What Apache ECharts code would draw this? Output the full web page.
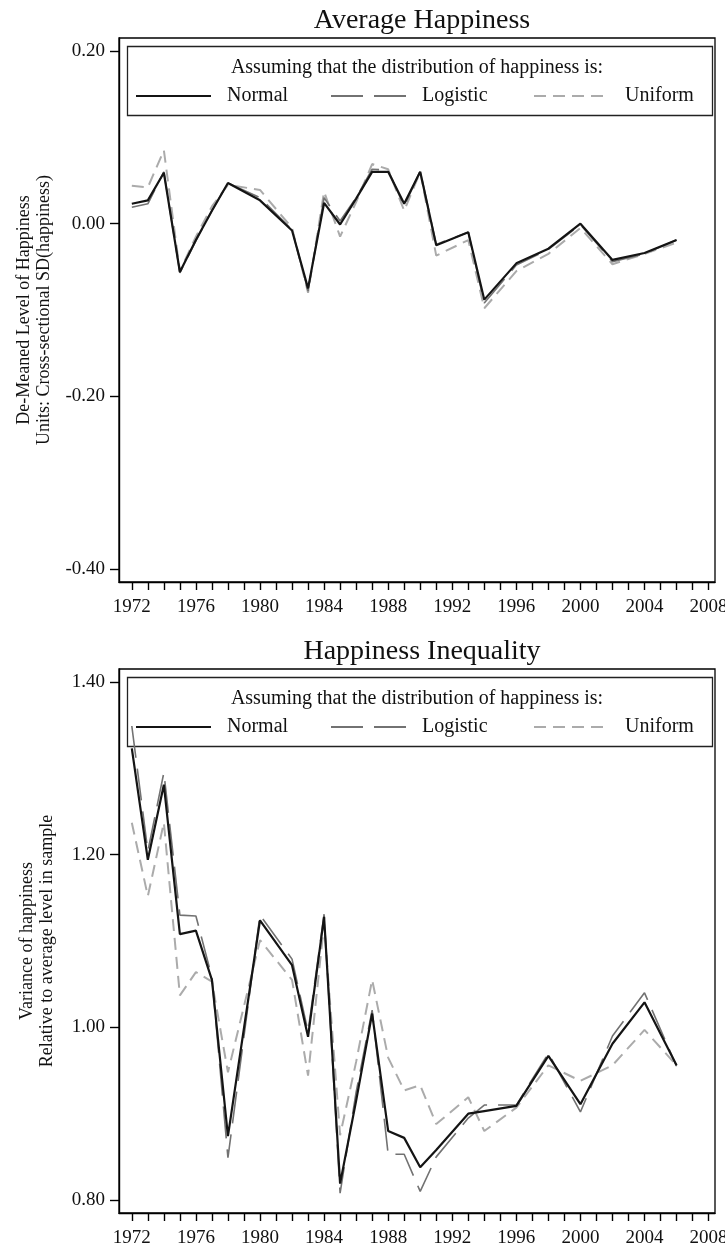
<!DOCTYPE html>
<html>
<head>
<meta charset="utf-8">
<script src="https://cdn.jsdelivr.net/npm/echarts@6/dist/echarts.min.js"></script>
<style>
html,body{margin:0;padding:0;background:#fff;}
#chart{width:725px;height:1251px;}
</style>
</head>
<body>
<div id="chart"></div>
<script>
// ---- data ----
const years = [1972,1973,1974,1975,1976,1977,1978,1980,1982,1983,1984,1985,1986,1987,1988,1989,1990,1991,1993,1994,1996,1998,2000,2002,2004,2006];

const avgNormal   = [0.023,0.027,0.059,-0.056,-0.019,0.015,0.047,0.027,-0.008,-0.075,0.024,-0.001,0.029,0.060,0.060,0.023,0.060,-0.025,-0.010,-0.088,-0.046,-0.029,0.000,-0.042,-0.034,-0.019];
const avgLogistic = [0.019,0.023,0.060,-0.057,-0.020,0.015,0.047,0.030,-0.007,-0.078,0.030,0.003,0.030,0.063,0.062,0.020,0.061,-0.024,-0.010,-0.092,-0.048,-0.030,-0.001,-0.044,-0.035,-0.019];
const avgUniform  = [0.044,0.042,0.085,-0.055,-0.015,0.020,0.045,0.039,-0.005,-0.080,0.037,-0.015,0.025,0.069,0.063,0.015,0.060,-0.037,-0.019,-0.098,-0.055,-0.035,-0.005,-0.047,-0.035,-0.022];

const ineqNormal   = [1.323,1.194,1.281,1.108,1.112,1.055,0.874,1.124,1.072,0.989,1.128,0.819,0.915,1.016,0.880,0.872,0.838,0.858,0.900,0.903,0.909,0.967,0.911,0.981,1.029,0.956];
const ineqLogistic = [1.349,1.204,1.295,1.130,1.129,1.058,0.849,1.130,1.079,0.995,1.131,0.808,0.925,1.020,0.853,0.853,0.810,0.850,0.895,0.910,0.910,0.970,0.902,0.990,1.040,0.955];
const ineqUniform  = [1.237,1.152,1.237,1.037,1.064,1.053,0.948,1.101,1.055,0.944,1.120,0.875,0.960,1.055,0.965,0.927,0.933,0.888,0.919,0.880,0.907,0.956,0.938,0.956,0.997,0.956];

const xLabelYears = [1972,1976,1980,1984,1988,1992,1996,2000,2004,2008];
const xTickYears = [];
for (let y = 1972; y <= 2008; y++) xTickYears.push(y);
const avgTicks = [0.2, 0, -0.2, -0.4];
const ineqTicks = [1.4, 1.2, 1.0, 0.8];

const seriesNames = ['Normal','Logistic','Uniform'];
const legendTitle = 'Assuming that the distribution of happiness is:';
const titles = ['Average Happiness','Happiness Inequality'];
const yNames = ['De-Meaned Level of Happiness\nUnits: Cross-sectional SD(happiness)',
                'Variance of happiness\nRelative to average level in sample'];

// ---- layout ----
const FONT = 'Liberation Serif, Times New Roman, serif';
const OFF = 631;
const gridLeft = 119, gridTop = 38, gridW = 596, gridH = 544;
const legendLefts = [135, 330, 533];

const styles = {
  Normal:   {color:'#141414', width:2.2, type:'solid'},
  Logistic: {color:'#727272', width:1.6, type:[32,11]},
  Uniform:  {color:'#ababab', width:2, type:[12,7]}
};

function xAxisFor(i){
  return {
    type:'value', gridIndex:i, min:1971.2, max:2008.4,
    axisLine:{show:true, onZero:false, lineStyle:{color:'#000', width:1.4}},
    axisTick:{show:true, customValues:xTickYears, length:8, lineStyle:{color:'#000', width:1.4}},
    axisLabel:{customValues:xLabelYears, formatter:v=>String(v), margin:16,
               fontSize:19, fontFamily:FONT, color:'#111'},
    splitLine:{show:false}
  };
}
function yAxisFor(i, min, max, ticks, name){
  return {
    type:'value', gridIndex:i, min:min, max:max,
    axisLine:{show:true, onZero:false, lineStyle:{color:'#000', width:1.4}},
    axisTick:{show:true, customValues:ticks, length:9, lineStyle:{color:'#000', width:1.4}},
    axisLabel:{customValues:ticks, formatter:v=>v.toFixed(2), margin:14,
               fontSize:19, fontFamily:FONT, color:'#111'},
    splitLine:{show:false},
    name:name, nameLocation:'middle', nameGap:62,
    nameTextStyle:{fontSize:18, fontFamily:FONT, color:'#111', lineHeight:20, align:'center'}
  };
}
function seriesFor(i, dataMap){
  return ['Uniform','Logistic','Normal'].map(n => ({
    name:n, type:'line', xAxisIndex:i, yAxisIndex:i,
    data: years.map((y,k)=>[y, dataMap[n][k]]),
    symbol:'none', silent:true,
    lineStyle:{color:styles[n].color, width:styles[n].width, type:styles[n].type},
    itemStyle:{color:styles[n].color},
    z: n==='Normal'?5:(n==='Logistic'?4:3)
  }));
}
function legendsFor(i){
  return seriesNames.map((n,k)=>({
    data:[n], orient:'horizontal', left:legendLefts[k], top:86 + i*OFF,
    itemWidth:75, itemHeight:14, padding:0,
    itemStyle:{opacity:0},
    textStyle:{fontSize:20, fontFamily:FONT, color:'#111', padding:[0,0,0,11]},
    selectedMode:false
  }));
}
function graphicsFor(i){
  return [
    {type:'rect', left:125, top:44 + i*OFF, shape:{width:585, height:69},
     style:{fill:'none', stroke:'#222', lineWidth:1.3}, silent:true, z:1},
    {type:'text', x:417, y:68 + i*OFF, style:{text:legendTitle, fontSize:20, fontFamily:FONT,
     fill:'#111', align:'center', verticalAlign:'middle'}, silent:true}
  ];
}

const option = {
  animation:false,
  backgroundColor:'#fff',
  title: titles.map((t,i)=>({text:t, left:417, textAlign:'center', top:2 + i*OFF,
          textStyle:{fontSize:28, fontWeight:'normal', fontFamily:FONT, color:'#111'}})),
  grid:[0,1].map(i=>({left:gridLeft, top:gridTop + i*OFF, width:gridW, height:gridH,
          containLabel:false, outerBoundsMode:'none',
          show:true, borderColor:'#000', borderWidth:1.3, backgroundColor:'#fff'})),
  xAxis:[xAxisFor(0), xAxisFor(1)],
  yAxis:[yAxisFor(0, -0.415, 0.215, avgTicks, yNames[0]),
         yAxisFor(1, 0.785, 1.415, ineqTicks, yNames[1])],
  legend:[...legendsFor(0), ...legendsFor(1)],
  graphic:[...graphicsFor(0), ...graphicsFor(1)],
  series:[
    ...seriesFor(0, {Normal:avgNormal, Logistic:avgLogistic, Uniform:avgUniform}),
    ...seriesFor(1, {Normal:ineqNormal, Logistic:ineqLogistic, Uniform:ineqUniform})
  ]
};

const chart = echarts.init(document.getElementById('chart'), null, {renderer:'canvas'});
chart.setOption(option);
</script>
</body>
</html>
